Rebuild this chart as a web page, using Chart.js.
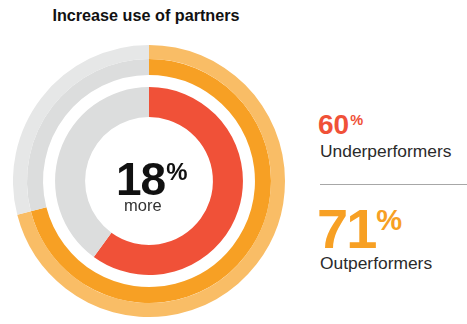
<!DOCTYPE html>
<html>
<head>
<meta charset="utf-8">
<script src="https://cdn.jsdelivr.net/npm/chart.js@4"></script>
<style>
  html, body { margin: 0; padding: 0; background: #fff; }
  body { width: 467px; height: 324px; position: relative; overflow: hidden;
         font-family: "Liberation Sans", Arial, sans-serif; }
  #wrap { position: absolute; left: 13px; top: 45px; width: 272px; height: 272px; }
  .abs { position: absolute; white-space: nowrap; }
  .title { left: 0; width: 292px; top: 6px; text-align: center; font-weight: bold;
           font-size: 16.2px; color: #111; }
  .big { font-weight: bold; line-height: 1; }
  .big sup { font-size: 0.52em; vertical-align: 0; position: relative; top: -0.62em; margin-left: 1px; }
  .lbl { font-size: 17.4px; color: #2b2b2b; }
  .rule { left: 320px; width: 147px; top: 184px; height: 0; border-top: 1.5px solid #a7a7a7; }
</style>
</head>
<body>
<div class="abs title">Increase use of partners</div>
<div id="wrap"><canvas id="chartPartners"></canvas></div>

<div class="abs big" id="centerVal" style="left:116px;top:156px;font-size:46px;color:#111;letter-spacing:-1px"></div>
<div class="abs" id="centerSub" style="left:124px;top:196px;font-size:16.5px;color:#333"></div>

<div class="abs big" id="underVal" style="left:318px;top:111px;font-size:28px;color:#f05138"></div>
<div class="abs lbl" id="underLbl" style="left:320px;top:141px"></div>
<div class="abs rule"></div>
<div class="abs big" id="outVal" style="left:317px;top:201px;font-size:56px;color:#f7a024;letter-spacing:-2px"></div>
<div class="abs lbl" id="outLbl" style="left:320px;top:253px"></div>

<script>
/* share of companies increasing use of partners (%) */
var groups = ['Outperformers', 'Underperformers'];
var shares = [71, 60];
var diffLabel = '18';
var diffSub = 'more';

var ORANGE = '#f7a024', ORANGE_LT = '#f9bd66', RED = '#f05138';
var GRAY = '#dcdddd', GRAY_LT = '#e6e7e7';

function rest(v) { return 100 - v; }

/* outer rings: outperformers (light halo + solid band), then a blank spacer, then underperformers */
new Chart(document.getElementById('chartPartners'), {
  type: 'doughnut',
  data: {
    labels: ['share', 'rest'],
    datasets: [
      { data: [shares[0], rest(shares[0])], backgroundColor: [ORANGE_LT, GRAY_LT], weight: 14 },
      { data: [shares[0], rest(shares[0])], backgroundColor: [ORANGE, GRAY], weight: 16 },
      { data: [100], backgroundColor: ['rgba(0,0,0,0)'], weight: 12 },
      { data: [shares[1], rest(shares[1])], backgroundColor: [RED, GRAY], weight: 30 }
    ]
  },
  options: {
    responsive: true,
    maintainAspectRatio: false,
    animation: false,
    cutout: '47%',
    borderWidth: 0,
    hoverOffset: 0,
    plugins: { legend: { display: false }, tooltip: { enabled: false } },
    elements: { arc: { borderWidth: 0 } }
  }
});

document.getElementById('centerVal').innerHTML = diffLabel + '<sup>%</sup>';
document.getElementById('centerSub').textContent = diffSub;
document.getElementById('underVal').innerHTML = shares[1] + '<sup>%</sup>';
document.getElementById('underLbl').textContent = groups[1];
document.getElementById('outVal').innerHTML = shares[0] + '<sup>%</sup>';
document.getElementById('outLbl').textContent = groups[0];
</script>
</body>
</html>
